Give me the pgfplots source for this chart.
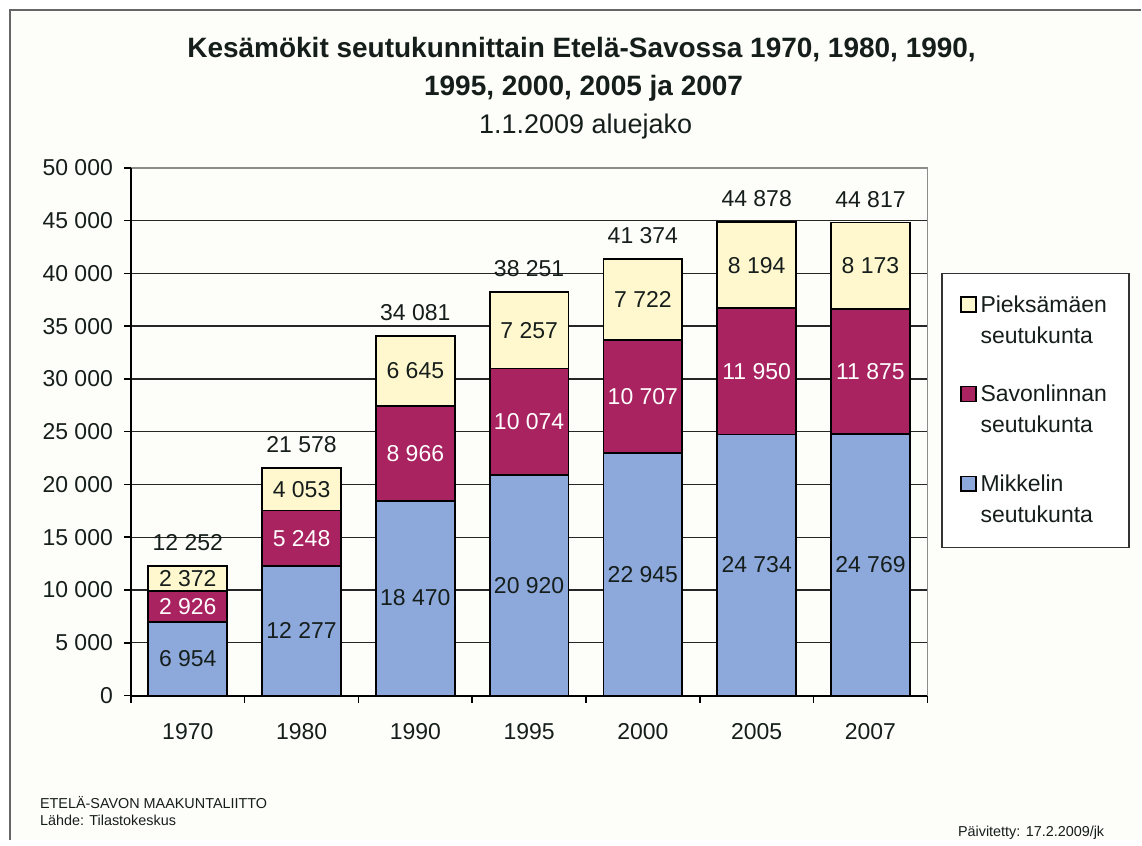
\documentclass[border=0pt]{standalone}
\usepackage{fontspec}
\setmainfont{Liberation Sans}
\usepackage{pgfplots}
\pgfplotsset{compat=1.18}
\usepackage{pgfplotstable}

\definecolor{mik}{RGB}{141,169,219}
\definecolor{sav}{RGB}{168,35,96}
\definecolor{pie}{RGB}{255,247,206}
\definecolor{bg}{RGB}{253,253,249}
\definecolor{txt}{RGB}{22,30,28}

% Kesämökit: Mikkeli (m), Savonlinna (s), Pieksämäki (p), yhteensä (t)
\pgfplotstableread{
x m s p t
0 6954 2926 2372 12252
1 12277 5248 4053 21578
2 18470 8966 6645 34081
3 20920 10074 7257 38251
4 22945 10707 7722 41374
5 24734 11950 8194 44878
6 24769 11875 8173 44817
}\data
% label positions: middle of each stacked segment
\pgfplotstablecreatecol[create col/expr={\thisrow{m}/2}]{ym}\data
\pgfplotstablecreatecol[create col/expr={\thisrow{m}+\thisrow{s}/2}]{ys}\data
\pgfplotstablecreatecol[create col/expr={\thisrow{m}+\thisrow{s}+\thisrow{p}/2}]{yp}\data

\pgfplotsset{
  numlabel/.style={
    nodes near coords={\pgfmathprintnumber[fixed,precision=0,1000 sep={\ },assume math mode=true]{\pgfplotspointmeta}},
  },
  frame/.style={
    at={(65.5pt,72.5pt)}, anchor=south west,
    scale only axis, width=398.5pt, height=264pt,
    xmin=-0.5, xmax=6.5, ymin=0, ymax=50000,
  },
}

\begin{document}
\begin{tikzpicture}[x=0.5pt,y=0.5pt]
\fill[white] (0,0) rectangle (1142,841);
\fill[bg] (10,0) rectangle (1142,831);
\draw[black!60, line width=0.8pt] (10,0) -- (10,831) -- (1142,831);

\node[font=\bfseries\fontsize{14}{16}\selectfont, text=txt] at (582,791)
  {Kesämökit seutukunnittain Etelä-Savossa 1970, 1980, 1990,};
\node[font=\bfseries\fontsize{14}{16}\selectfont, text=txt] at (584,753)
  {1995, 2000, 2005 ja 2007};
\node[font=\fontsize{13.5}{15}\selectfont, text=txt] at (586,714)
  {1.1.2009 aluejako};

\node[anchor=west, font=\fontsize{7.2}{8.5}\selectfont, text=txt] at (33,38) {ETELÄ-SAVON MAAKUNTALIITTO};
\node[anchor=west, font=\fontsize{7.2}{8.5}\selectfont, text=txt] at (33,20) {Lähde: Tilastokeskus};
\node[anchor=east, font=\fontsize{7.2}{8.5}\selectfont, text=txt] at (1112,8) {Päivitetty: 17.2.2009/jk};

\begin{axis}[
    frame,
    ybar stacked, bar width=39.5pt,
    xtick={0,...,6},
    xticklabels={1970,1980,1990,1995,2000,2005,2007},
    minor xtick={-0.5,0.5,...,6.5},
    ytick={0,5000,...,50000},
    scaled y ticks=false,
    yticklabel style={/pgf/number format/fixed, /pgf/number format/1000 sep={\ },
      /pgf/number format/assume math mode=true, xshift=-2pt},
    ticklabel style={font=\fontsize{11.5}{13}\selectfont, text=txt},
    xticklabel style={yshift=-7pt},
    tick align=outside, tick pos=left,
    major tick length=3.5pt, minor tick length=3.5pt,
    major x tick style={draw=none},
    tick style={black, line width=0.8pt},
    ymajorgrids, grid style={black!85, line width=0.7pt},
    axis line style={draw=none},
    after end axis/.code={
      \draw[black!45, line width=0.8pt] (rel axis cs:0,1) -- (rel axis cs:1,1) -- (rel axis cs:1,0);
      \draw[black, line width=1pt] (rel axis cs:0,1) -- (rel axis cs:0,0) -- (rel axis cs:1,0);
    },
    legend style={at={(1.0176,0.801)}, anchor=north west,
      draw=black!80, line width=0.8pt, fill=white,
      font=\fontsize{11.5}{15.5}\selectfont, text=txt,
      cells={align=left, anchor=west},
      row sep=15.5pt, inner xsep=9pt, inner ysep=9pt},
    legend image code/.code={\draw[#1, draw=black, line width=0.7pt] (0pt,4.5pt) rectangle (7.5pt,12pt);},
    reverse legend,
]
\addplot[fill=mik, draw=black, line width=0.9pt] table[x=x,y=m]{\data};
\addlegendentry{Mikkelin\\seutukunta}
\addplot[fill=sav, draw=black, line width=0.9pt] table[x=x,y=s]{\data};
\addlegendentry{Savonlinnan\\seutukunta}
\addplot[fill=pie, draw=black, line width=0.9pt] table[x=x,y=p]{\data};
\addlegendentry{Pieksämäen\\seutukunta}
\end{axis}

% value labels on an overlaid axis with the same frame
\begin{axis}[
    frame, hide axis, clip=false,
    every node near coord/.append style={font=\fontsize{11.5}{13}\selectfont, text=txt},
]
\addplot[draw=none, mark=none, numlabel, point meta=\thisrow{m},
  nodes near coords style={anchor=center}] table[x=x,y=ym]{\data};
\addplot[draw=none, mark=none, numlabel, point meta=\thisrow{s},
  nodes near coords style={anchor=center, text=white}] table[x=x,y=ys]{\data};
\addplot[draw=none, mark=none, numlabel, point meta=\thisrow{p},
  nodes near coords style={anchor=center}] table[x=x,y=yp]{\data};
\addplot[draw=none, mark=none, numlabel, point meta=\thisrow{t},
  nodes near coords style={anchor=south, yshift=4pt}] table[x=x,y=t]{\data};
\end{axis}
\end{tikzpicture}
\end{document}
